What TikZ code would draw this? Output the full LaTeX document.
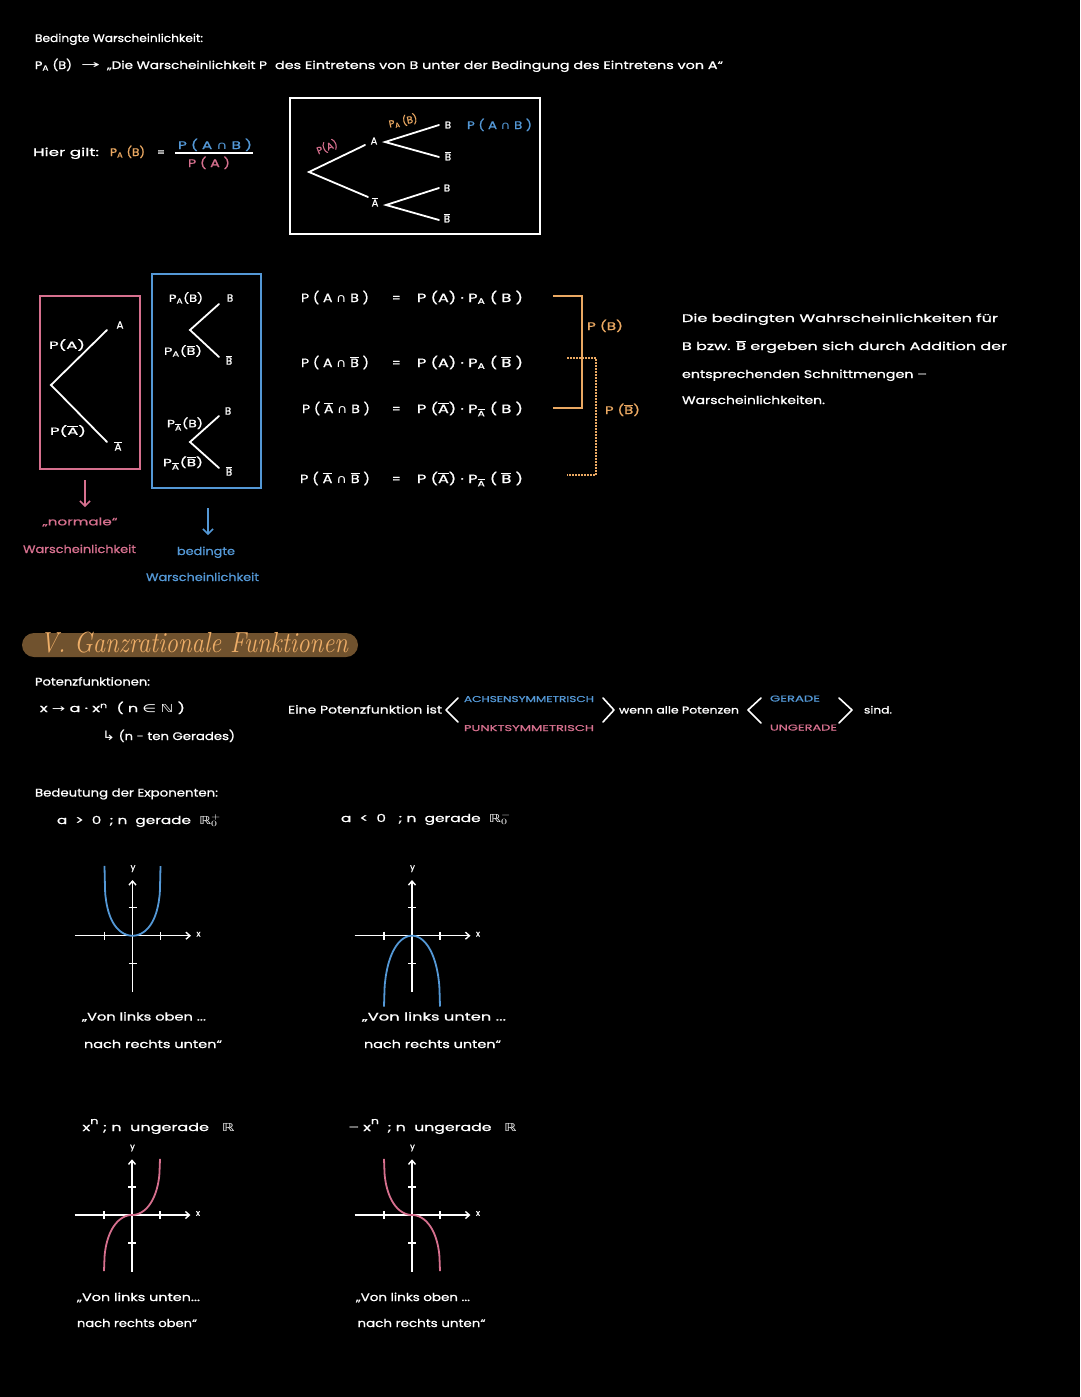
\documentclass[tikz,border=0pt]{standalone}
\usepackage{fontspec}
\usepackage{graphicx}
\usetikzlibrary{arrows.meta}
\newfontfamily\hand{Poppins}[FakeBold=0.9]
\newfontfamily\sym{DejaVu Sans}
\definecolor{pk}{RGB}{214,112,142}
\definecolor{bl}{RGB}{84,152,214}
\definecolor{orc}{RGB}{234,168,98}
\definecolor{tbg}{RGB}{112,82,46}
\definecolor{ttx}{RGB}{238,174,104}
\newcommand\tw[2]{\resizebox{#1pt}{\height}{#2}}
\newcommand\ol[1]{$\overline{\hbox{#1}}$}
\newcommand\Is{{\sym ∩}}
\newcommand\RRR{{\sym ℝ}}
\tikzset{
  tx/.style={inner sep=0pt, outer sep=0pt, text=white, anchor=base west, font=\hand\fontsize{11}{13}\selectfont},
  cx/.style={inner sep=0pt, outer sep=0pt, text=white, anchor=center, font=\hand\fontsize{10.5}{12}\selectfont},
  sz8/.style={font=\hand\fontsize{8.5}{10}\selectfont},
  sz9/.style={font=\hand\fontsize{10}{11}\selectfont},
  sz11/.style={font=\hand\fontsize{12}{14}\selectfont},
  br/.style={draw=white, line width=1.8pt, line cap=round},
  axis/.style={draw=white, line width=1.5pt, -{Straight Barb[length=4pt,width=7pt,line width=1.4pt]}},
  tick/.style={draw=white, line width=1.4pt},
  curb/.style={draw=bl, line width=1.8pt},
  curp/.style={draw=pk, line width=1.8pt},
  chev/.style={draw=white, line width=1.6pt, line cap=round, line join=round},
  darr/.style={line width=1.6pt, -{Straight Barb[length=5pt,width=10pt,line width=1.5pt]}},
  lab/.style={inner sep=0pt, text=white, font=\hand\fontsize{8.5}{10}\selectfont},
}
\newcommand\axes[3]{%
  \coordinate (#1o) at (#2,#3);
  \coordinate (#1xl) at ({#2-57.5},#3);
  \coordinate (#1xr) at ({#2+58.5},#3);
  \coordinate (#1yb) at (#2,{#3+56.5});
  \coordinate (#1yt) at (#2,{#3-55.7});
  \draw[axis] (#1xl) -- (#1xr);
  \draw[axis] (#1yb) -- (#1yt);
  \foreach \d in {-28,28} {\draw[tick] ({#2+\d},{#3-4}) -- ({#2+\d},{#3+4});
    \draw[tick] ({#2-4},{#3+\d}) -- ({#2+4},{#3+\d});}
  \node[lab] (#1y) at ({#2+0.5},{#3-67}) {y};
  \node[lab] (#1x) at ({#2+66},{#3-1.5}) {x};
}
\begin{document}
\begin{tikzpicture}[x=1pt,y=-1pt]
\path[fill=black] (0,0) rectangle (1080,1397);
\useasboundingbox (0,0) rectangle (1080,1397);

% ---------- header ----------
\node[tx] (h1) at (35,42) {\tw{168}{Bedingte Warscheinlichkeit:}};
\node[tx] (h2a) at (35,69) {\tw{37}{P\textsubscript{A} (B)}};
\node[tx] (h2b) at (81,69) {\tw{19}{\sym →}};
\node[tx] (h2c) at (107,69) {\tw{160}{„Die Warscheinlichkeit P}};
\node[tx] (h2d) at (275,69) {\tw{448}{des Eintretens von B unter der Bedingung des Eintretens von A“}};

% ---------- Hier gilt ----------
\node[tx] (hg) at (33,156) {\tw{66}{Hier gilt:}};
\node[tx, text=orc] (hgp) at (110,156) {\tw{35}{P\textsubscript{A} (B)}};
\node[tx] (hgeq) at (157,156) {=};
\node[tx, text=bl] (fnum) at (178,149) {\tw{74}{P ( A \Is{} B )}};
\coordinate (fl1) at (175,153);
\coordinate (fl2) at (253,153);
\draw[white, line width=1.6pt] (fl1) -- (fl2);
\node[tx, text=pk] (fden) at (188,167) {\tw{42}{P ( A )}};

% ---------- tree box ----------
\node[draw=white, line width=1.8pt, minimum width=250pt, minimum height=136pt, inner sep=0pt] (tbox) at (415,166) {};
\coordinate (r0) at (309,172);
\coordinate (ra) at (365,145);
\coordinate (rab) at (368,197);
\coordinate (a0) at (385,142);
\coordinate (ab1) at (439,125);
\coordinate (ab2) at (439,157);
\coordinate (b0) at (386,205);
\coordinate (bb1) at (439,188);
\coordinate (bb2) at (439,220);
\draw[br] (ra) -- (r0) -- (rab);
\draw[br] (ab1) -- (a0) -- (ab2);
\draw[br] (bb1) -- (b0) -- (bb2);
\node[cx, sz9] (tA) at (374,141) {A};
\node[cx, sz9] (tAb) at (375,202) {\ol{A}};
\node[cx, sz9] (tB1) at (448,125) {B};
\node[cx, sz9] (tB1b) at (448,156) {\ol{B}};
\node[cx, sz9] (tB2) at (447,188) {B};
\node[cx, sz9] (tB2b) at (447,218) {\ol{B}};
\node[cx, sz9, text=pk, rotate=22] (tPA) at (327,147) {P(A)};
\node[cx, sz9, text=orc, rotate=12] (tPAB) at (403,121) {P\textsubscript{A} (B)};
\node[tx, text=bl] (tPAnB) at (467,129) {\tw{65}{P ( A \Is{} B )}};

% ---------- pink box ----------
\node[draw=pk, line width=1.8pt, minimum width=100pt, minimum height=173pt, inner sep=0pt] (pbox) at (90,382.5) {};
\coordinate (p0) at (51,385);
\coordinate (p1) at (107,330);
\coordinate (p2) at (107,442);
\draw[br] (p1) -- (p0) -- (p2);
\node[cx] (pPA) at (67,345) {\tw{36}{P(A)}};
\node[cx] (pA) at (120,325) {A};
\node[cx] (pPAb) at (68,431) {\tw{36}{P(\ol{A})}};
\node[cx] (pAb) at (118,446) {\ol{A}};

% ---------- blue box ----------
\node[draw=bl, line width=1.8pt, minimum width=109pt, minimum height=214pt, inner sep=0pt] (bbox) at (206.5,381) {};
\coordinate (q0) at (190,330);
\coordinate (q1) at (219,304);
\coordinate (q2) at (219,357);
\coordinate (s0) at (190,442);
\coordinate (s1) at (219,416);
\coordinate (s2) at (219,468);
\draw[br] (q1) -- (q0) -- (q2);
\draw[br] (s1) -- (s0) -- (s2);
\node[cx] (bPA) at (186,298) {\tw{34}{P\textsubscript{A}(B)}};
\node[cx] (bB1) at (230,298) {B};
\node[cx] (bPAb) at (183,351) {\tw{38}{P\textsubscript{A}(\ol{B})}};
\node[cx] (bB1b) at (229,360) {\ol{B}};
\node[cx] (bPAbB) at (185,424) {\tw{36}{P\textsubscript{\ol{A}}(B)}};
\node[cx] (bB2) at (228,411) {B};
\node[cx] (bPAbBb) at (183,463) {\tw{40}{P\textsubscript{\ol{A}}(\ol{B})}};
\node[cx] (bB2b) at (229,471) {\ol{B}};

% ---------- arrows below boxes ----------
\coordinate (pa1) at (85,480);
\coordinate (ba1) at (208,508);
\node[cx, text=pk] (nrm) at (80,522) {\tw{75}{„normale“}};
\node[tx, text=pk] (pw) at (23,553) {\tw{113}{Warscheinlichkeit}};
\node[tx, text=bl] (bd) at (177,555) {\tw{58}{bedingte}};
\node[tx, text=bl] (bw) at (146,581) {\tw{113}{Warscheinlichkeit}};
\coordinate (pa2) at (85,507);
\coordinate (ba2) at (208,535);
\draw[darr, draw=pk] (pa1) -- (pa2);
\draw[darr, draw=bl] (ba1) -- (ba2);

% ---------- equations ----------
\node[tx, sz11] (eL1) at (301,302) {\tw{68}{P ( A \Is{} B )}};
\node[tx, sz11] (eq1) at (392,302) {=};
\node[tx, sz11] (eR1) at (417,302) {\tw{106}{P (A) · P\textsubscript{A} ( B )}};
\node[tx, sz11] (eL2) at (301,367) {\tw{68}{P ( A \Is{} \ol{B} )}};
\node[tx, sz11] (eq2) at (392,367) {=};
\node[tx, sz11] (eR2) at (417,367) {\tw{106}{P (A) · P\textsubscript{A} ( \ol{B} )}};
\node[tx, sz11] (eL3) at (302,413) {\tw{68}{P ( \ol{A} \Is{} B )}};
\node[tx, sz11] (eq3) at (392,413) {=};
\node[tx, sz11] (eR3) at (417,413) {\tw{106}{P (\ol{A}) · P\textsubscript{\ol{A}} ( B )}};
\node[tx, sz11] (eL4) at (300,483) {\tw{70}{P ( \ol{A} \Is{} \ol{B} )}};
\node[tx, sz11] (eq4) at (392,483) {=};
\node[tx, sz11] (eR4) at (417,483) {\tw{106}{P (\ol{A}) · P\textsubscript{\ol{A}} ( \ol{B} )}};

\coordinate (k1) at (553,296);
\coordinate (k2) at (582,296);
\coordinate (k3) at (582,408);
\coordinate (k4) at (553,408);
\draw[orc, line width=1.6pt] (k1) -- (k2) -- (k3) -- (k4);
\coordinate (d1) at (567,358);
\coordinate (d2) at (596,358);
\coordinate (d3) at (596,475);
\coordinate (d4) at (567,475);
\draw[orc, line width=1.6pt, dash pattern=on 1.6pt off 1.4pt] (d1) -- (d2) -- (d3) -- (d4);
\node[tx, text=orc] (lPB) at (587,330) {\tw{36}{P (B)}};
\node[tx, text=orc] (lPBb) at (605,414) {\tw{35}{P (\ol{B})}};

% ---------- right text ----------
\node[tx] (rt1) at (682,322) {\tw{316}{Die bedingten Wahrscheinlichkeiten für}};
\node[tx] (rt2) at (682,350) {\tw{325}{B bzw. \ol{B} ergeben sich durch Addition der}};
\node[tx] (rt3) at (682,378) {\tw{245}{entsprechenden Schnittmengen –}};
\node[tx] (rt4) at (682,404) {\tw{143}{Warscheinlichkeiten.}};

% ---------- title ----------
\node[fill=tbg, rounded corners=12pt, minimum width=336pt, minimum height=24pt, inner sep=0pt] (tpill) at (190,645) {};
\node[tx, text=ttx, font=\rmfamily\itshape\fontsize{29}{30}\selectfont] (title) at (40,652) {\tw{308}{V. Ganzrationale Funktionen}};

% ---------- Potenzfunktionen ----------
\node[tx] (pf) at (35,685.5) {\tw{115}{Potenzfunktionen:}};
\node[tx] (px) at (40,712) {\tw{145}{x {\sym →} a · x\textsuperscript{n} \ ( n {\sym ∈} {\sym ℕ} )}};
\node[tx] (pg) at (102,740) {\tw{133}{{\sym\fontsize{13}{13}\selectfont ↳} (n - ten Gerades)}};

\node[tx] (eine) at (288,713.5) {\tw{154}{Eine Potenzfunktion ist}};
\coordinate (c1a) at (458,698);
\coordinate (c1b) at (446,710);
\coordinate (c1c) at (458,722);
\draw[chev] (c1a) -- (c1b) -- (c1c);
\node[tx, sz8, text=bl] (ach) at (464,702) {\tw{130}{ACHSENSYMMETRISCH}};
\node[tx, sz8, text=pk] (pun) at (464,731) {\tw{130}{PUNKTSYMMETRISCH}};
\coordinate (c2a) at (603,698);
\coordinate (c2b) at (614,710);
\coordinate (c2c) at (603,722);
\draw[chev] (c2a) -- (c2b) -- (c2c);
\node[tx, sz9] (wenn) at (619,713.5) {\tw{120}{wenn alle Potenzen}};
\coordinate (c3a) at (761,698);
\coordinate (c3b) at (748,710);
\coordinate (c3c) at (761,723);
\draw[chev] (c3a) -- (c3b) -- (c3c);
\node[tx, sz8, text=bl] (ger) at (770,701.5) {\tw{50}{GERADE}};
\node[tx, sz8, text=pk] (ung) at (770,730.5) {\tw{67}{UNGERADE}};
\coordinate (c4a) at (839,698);
\coordinate (c4b) at (852,710);
\coordinate (c4c) at (839,723);
\draw[chev] (c4a) -- (c4b) -- (c4c);
\node[tx, sz9] (sind) at (864,713.5) {\tw{28}{sind.}};

% ---------- Exponenten ----------
\node[tx] (bed) at (35,796.5) {\tw{183}{Bedeutung der Exponenten:}};
\node[tx] (cs1) at (57,824) {\tw{164}{a \ > \ 0 \ ; n \ gerade \ \RRR$^{+}_{0}$}};
\node[tx] (cs2) at (341,822) {\tw{170}{a \ < \ 0 \ \ ; n \ gerade \ \RRR$^{-}_{0}$}};

\axes{ga}{132.5}{935.7}
\axes{gb}{412}{935.7}
\draw[curb] plot[domain=-28:28, samples=90, smooth] ({132.5+\x},{935.7-73*(1-(max(1-(\x/28)^2,0.00001))^0.3)});
\draw[curb] plot[domain=-28:28, samples=90, smooth] ({412+\x},{935.7+72*(1-(max(1-(\x/28)^2,0.00001))^0.4)});

\node[tx] (g1a) at (82,1020.5) {\tw{124}{„Von links oben ...}};
\node[tx] (g1b) at (84,1048) {\tw{138}{nach rechts unten“}};
\node[tx] (g2a) at (362,1020.5) {\tw{144}{„Von links unten ...}};
\node[tx] (g2b) at (364,1048) {\tw{137}{nach rechts unten“}};

\node[tx] (cs3) at (82.5,1131) {\tw{152}{x\raisebox{7pt}{\fontsize{9}{9}\selectfont n} ; n \ ungerade \ \ \RRR}};
\node[tx] (cs4) at (348.5,1131) {\tw{168}{– x\raisebox{7pt}{\fontsize{9}{9}\selectfont n} \ ; n \ ungerade \ \ \RRR}};

\axes{gc}{132}{1215}
\axes{gd}{412}{1215}
\draw[curp] plot[domain=-28:28, samples=90, smooth] ({132+\x},{1215-57*sign(\x)*(1-(max(1-(\x/28)^2,0.00001))^0.4)});
\draw[curp] plot[domain=-28:28, samples=90, smooth] ({412+\x},{1215+57*sign(\x)*(1-(max(1-(\x/28)^2,0.00001))^0.4)});

\node[tx] (g3a) at (77,1301) {\tw{123}{„Von links unten...}};
\node[tx] (g3b) at (77,1327) {\tw{120}{nach rechts oben“}};
\node[tx] (g4a) at (356,1301) {\tw{114}{„Von links oben ...}};
\node[tx] (g4b) at (357.5,1327) {\tw{128}{nach rechts unten“}};
\end{tikzpicture}
\end{document}
